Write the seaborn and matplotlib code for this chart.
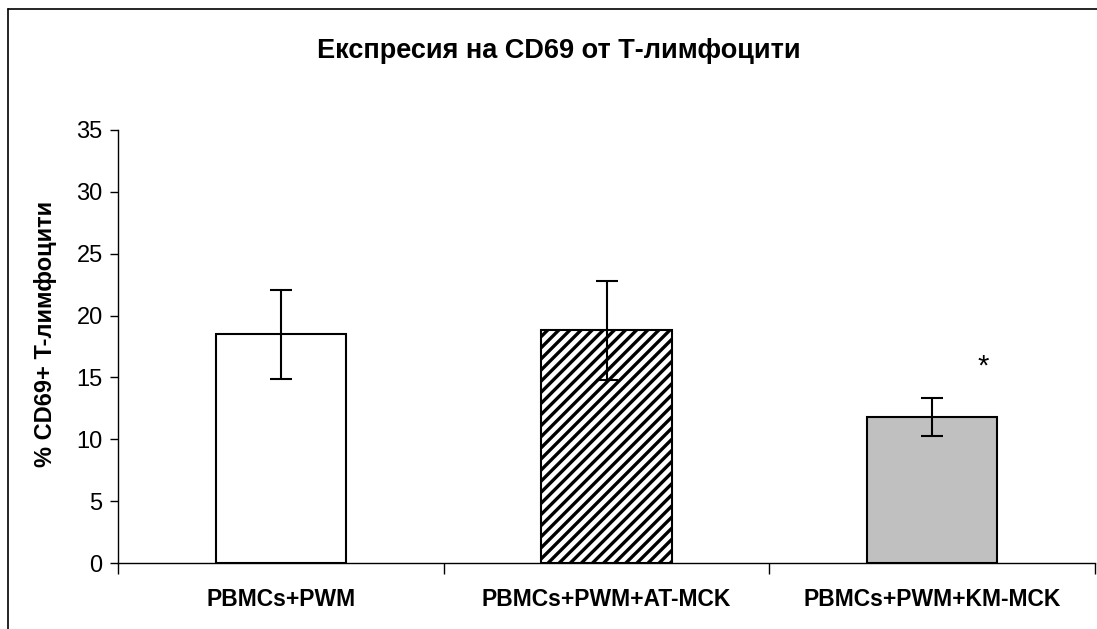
import matplotlib
matplotlib.use("Agg")
import matplotlib.pyplot as plt
from matplotlib.lines import Line2D
import seaborn as sns
import pandas as pd

# Data
categories = ["PBMCs+PWM", "PBMCs+PWM+AT-MCK", "PBMCs+PWM+KM-MCK"]
means = [18.5, 18.8, 11.8]
errors = [3.6, 4.0, 1.5]
yticks = [0, 5, 10, 15, 20, 25, 30, 35]

title = "Експресия на CD69 от Т-лимфоцити"
ylabel = "% CD69+ T-лимфоцити"

sns.set_theme(style="white")
plt.rcParams["font.family"] = ["Liberation Sans", "DejaVu Sans"]
plt.rcParams["text.color"] = "black"
plt.rcParams["axes.labelcolor"] = "black"
plt.rcParams["xtick.color"] = "black"
plt.rcParams["ytick.color"] = "black"
plt.rcParams["hatch.linewidth"] = 2.4
plt.rcParams["hatch.color"] = "black"

df = pd.DataFrame({"group": categories, "value": means})

fig = plt.figure(figsize=(10.97, 6.29), dpi=100)
ax = fig.add_axes([118 / 1097, 1 - 563 / 629, (1095 - 118) / 1097, (563 - 130) / 629])

sns.barplot(data=df, x="group", y="value", errorbar=None, width=0.4,
            color="white", edgecolor="black", linewidth=1.5, ax=ax)

fills = ["white", "white", "#C0C0C0"]
hatches = [None, "///", None]
for patch, fc, h in zip(ax.patches, fills, hatches):
    patch.set_facecolor(fc)
    if h:
        patch.set_hatch(h)

xs = [p.get_x() + p.get_width() / 2 for p in ax.patches]
ax.errorbar(xs, means, yerr=errors, fmt="none", ecolor="black",
            elinewidth=1.5, capsize=8, capthick=1.5, zorder=5)

# significance marker above the third bar
ax.text(2.156, 15.9, "*", ha="center", va="center", fontsize=21, color="black")

ax.set_ylim(0, 35)
ax.set_xlim(-0.5, 2.5)
ax.set_yticks(yticks)
ax.set_yticklabels([str(t) for t in yticks], fontsize=17)
ax.tick_params(axis="y", left=True, length=6, width=1, pad=5, color="black")

# category separators as major ticks, labels as minor ticks
ax.set_xticks([-0.5, 0.5, 1.5, 2.5])
ax.set_xticklabels([])
ax.set_xticks([0, 1, 2], minor=True)
ax.set_xticklabels(categories, minor=True, fontsize=16.5, fontweight="bold")
ax.tick_params(axis="x", which="major", bottom=True, length=8, width=1, color="black")
ax.tick_params(axis="x", which="minor", bottom=False, length=0, pad=18)
ax.set_xlabel("")

ax.set_ylabel(ylabel, fontsize=17, fontweight="bold")
ax.yaxis.set_label_coords(-0.062, 0.53)

for s in ["top", "right"]:
    ax.spines[s].set_visible(False)
for s in ["left", "bottom"]:
    ax.spines[s].set_color("black")
    ax.spines[s].set_linewidth(1.0)
ax.grid(False)

fig.text(559 / 1097, 1 - 51 / 629, title, ha="center", va="center",
         fontsize=19.5, fontweight="bold")

# outer frame lines
fig.add_artist(Line2D([8 / 1097, 8 / 1097], [0, 1 - 9 / 629], color="black", lw=1.2,
                      transform=fig.transFigure))
fig.add_artist(Line2D([8 / 1097, 1], [1 - 9 / 629, 1 - 9 / 629], color="black", lw=1.2,
                      transform=fig.transFigure))

fig.savefig("out.png", dpi=100, facecolor="white")
